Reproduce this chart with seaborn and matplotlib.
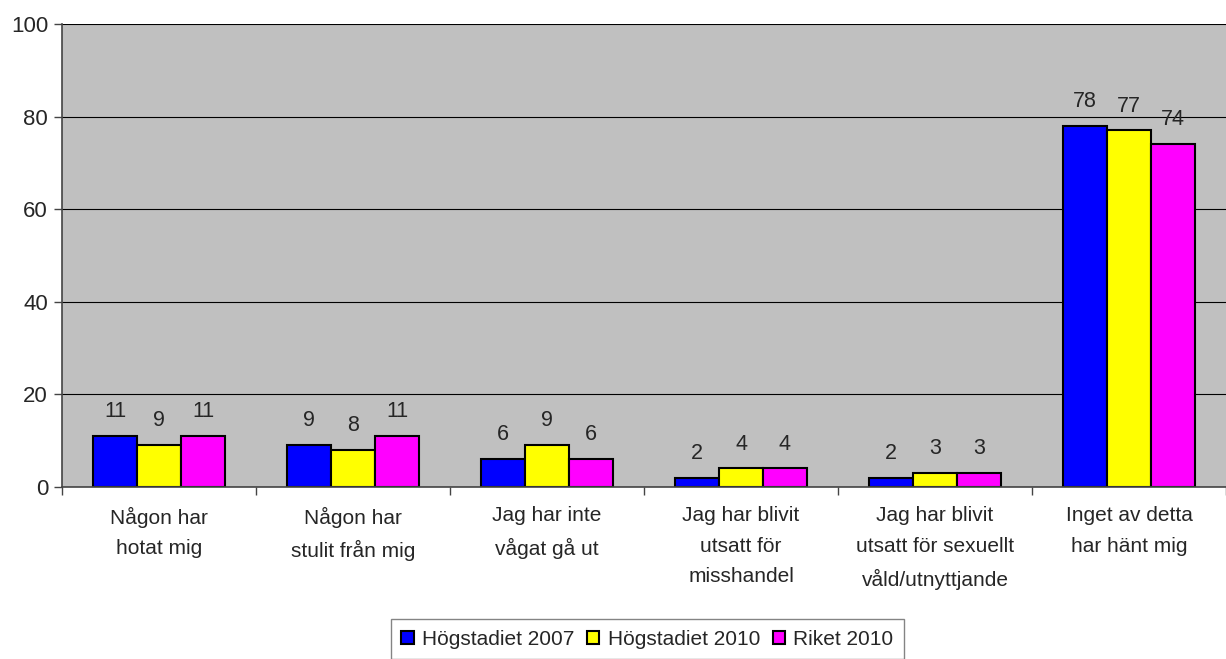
'''
Grouped bar chart: share of pupils who have experienced threats, theft etc.
Högstadiet 2007 / Högstadiet 2010 / Riket 2010.
'''

import matplotlib
matplotlib.use('Agg')
import matplotlib.pyplot as plt
from matplotlib.patches import Patch
import seaborn as sns
import pandas as pd
import numpy as np

# Data
categories = ['Någon har\nhotat mig',
              'Någon har\nstulit från mig',
              'Jag har inte\nvågat gå ut',
              'Jag har blivit\nutsatt för\nmisshandel',
              'Jag har blivit\nutsatt för sexuellt\nvåld/utnyttjande',
              'Inget av detta\nhar hänt mig']
series = ['Högstadiet 2007', 'Högstadiet 2010', 'Riket 2010']
hog_2007 = [11, 9, 6, 2, 2, 78]
hog_2010 = [9, 8, 9, 4, 3, 77]
riket_2010 = [11, 11, 6, 4, 3, 74]
colors = ['#0000FF', '#FFFF00', '#FF00FF']


def main():
    df = pd.DataFrame({
        'kategori': categories * 3,
        'serie': np.repeat(series, len(categories)),
        'varde': hog_2007 + hog_2010 + riket_2010,
    })

    sns.set_style('white')
    plt.rcParams['font.family'] = ['Liberation Sans', 'DejaVu Sans']

    fig = plt.figure(figsize=(12.26, 6.59), dpi=100)
    ax = fig.add_axes([62 / 1226, 172 / 659, 1 - 62 / 1226, 463 / 659])
    ax.set_facecolor('#C0C0C0')

    sns.barplot(data=df, x='kategori', y='varde', hue='serie',
                palette=colors, width=0.68, edgecolor='black', linewidth=1.5,
                saturation=1, ax=ax, legend=False)

    # value labels above each bar
    for cont in ax.containers:
        ax.bar_label(cont, padding=10, fontsize=15.5)

    ax.set_ylim(0, 100)
    ax.set_xlim(-0.5, len(categories) - 0.5)
    ax.set_yticks(range(0, 101, 20))
    ax.yaxis.grid(True, color='black', linewidth=0.8)
    ax.set_axisbelow(True)
    ax.set_xlabel('')
    ax.set_ylabel('')

    # x ticks between the groups
    ax.set_xticks(range(len(categories)))
    ax.set_xticklabels(categories, fontsize=15, linespacing=1.75)
    ax.set_xticks(np.arange(-0.5, len(categories) + 0.5, 1), minor=True)
    ax.tick_params(axis='x', which='major', length=0, pad=14, bottom=True)
    ax.tick_params(axis='x', which='minor', length=6, color='#444444',
                   width=1, bottom=True)
    ax.tick_params(axis='y', length=6, color='#444444', width=1,
                   labelsize=16, left=True, pad=4)

    for side in ['top', 'right']:
        ax.spines[side].set_visible(False)
    ax.spines['left'].set_color('#444444')
    ax.spines['bottom'].set_color('#444444')
    ax.spines['left'].set_linewidth(1.2)
    ax.spines['bottom'].set_linewidth(1.2)

    handles = [Patch(facecolor=c, edgecolor='black', linewidth=1.5) for c in colors]
    leg = fig.legend(handles, series, loc='lower center', ncol=3,
                     bbox_to_anchor=(0.528, -0.016), fontsize=15,
                     frameon=True, fancybox=False, edgecolor='#666666',
                     handlelength=0.6, handleheight=0.6, handletextpad=0.4,
                     columnspacing=0.6, borderpad=0.5)
    leg.get_frame().set_linewidth(1)

    fig.savefig('out.png', dpi=100)


if __name__ == "__main__":
    main()
